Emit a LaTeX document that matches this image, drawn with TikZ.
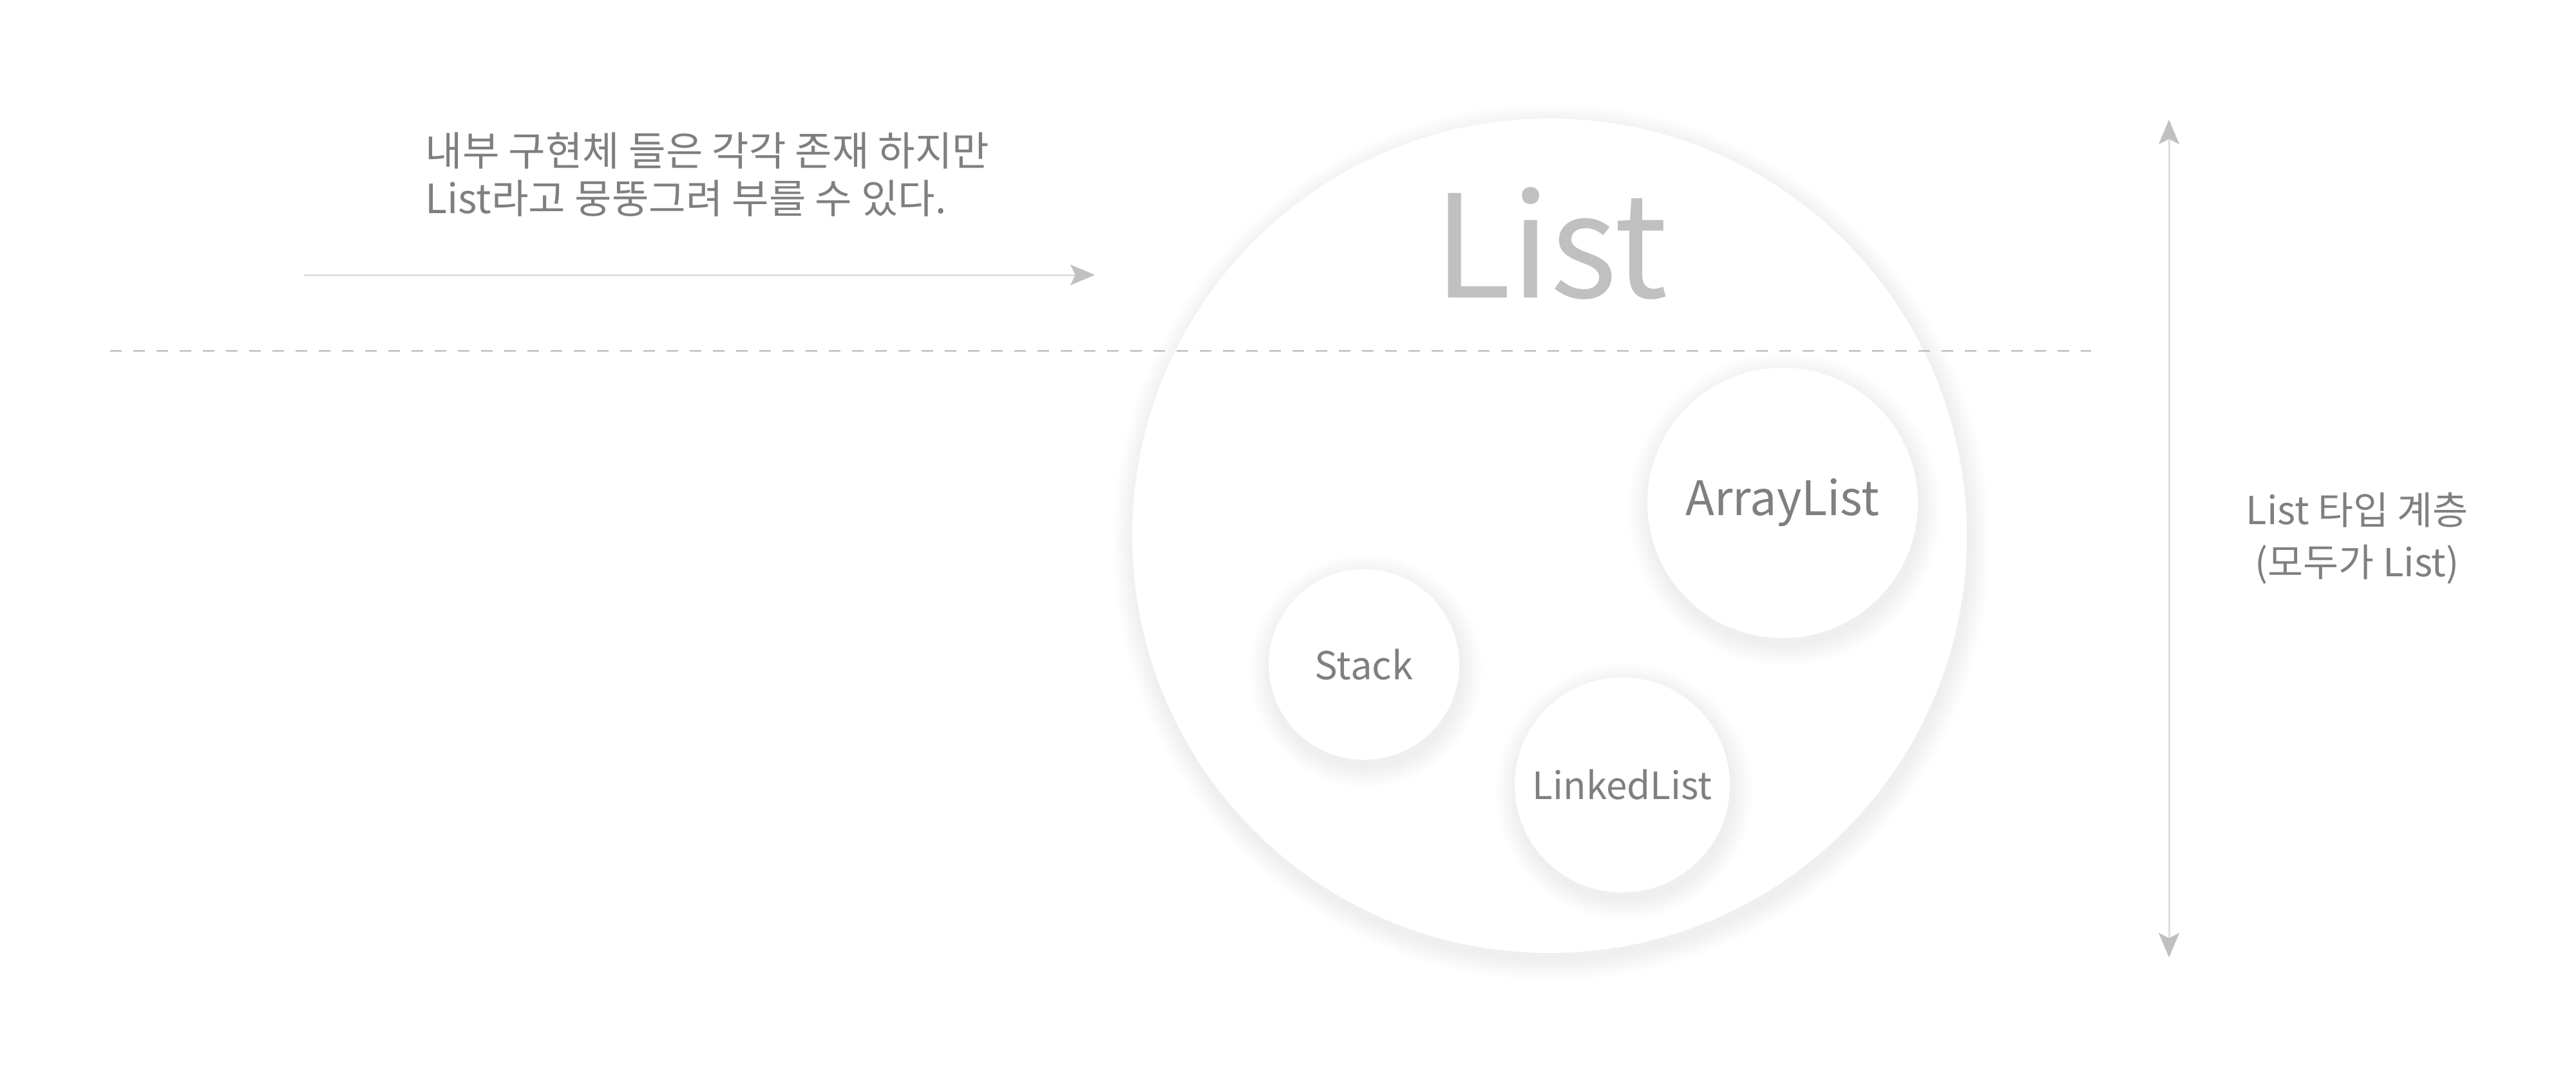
\documentclass[tikz,border=0pt]{standalone}
\usepackage{fontspec}
\setmainfont{Noto Sans CJK KR}
\usetikzlibrary{arrows.meta}
\definecolor{txtgray}{HTML}{7F7F7F}
\definecolor{titlegray}{HTML}{C0C0C0}
\definecolor{linegray}{HTML}{DEDEDE}
\definecolor{tipgray}{HTML}{C0C0C0}
\definecolor{dashgray}{HTML}{B4B4B4}
% soft halo, then the white set circle on top
\newcommand{\drawlisttype}[5]{
	\foreach \k in {1,...,8}
		\fill [black,opacity=0.009,shift={(0.03,-0.1)}] #1 circle ({#3+\k*0.04});
	\draw #1 node (#2) [setcirc,minimum size=2*#3 cm] {\fontsize{#4}{#4}\selectfont #5};
}

\begin{document}
\begin{tikzpicture}[
	setcirc/.style={shape=circle,fill=white,inner sep=0pt,text=txtgray},
	lbl/.style={text=txtgray,inner sep=0pt},
	guide/.style={draw=linegray,line width=0.3mm},
	tiphead/.tip={Stealth[length=3.8mm,width=3.2mm,inset=0.8mm,color=tipgray]}
]
	\useasboundingbox[fill=white] (0,0) rectangle (40,16.67);
	% the List set
	\drawlisttype{(24.06,8.35)}{list}{6.48}{10}{}
	\coordinate (cutl) at (1.71,11.22);
	\coordinate (cutr) at (32.47,11.22);
	\draw [dashgray,line width=0.2mm,dash pattern=on 1.8mm off 1.8mm] (cutl) -- (cutr);
	\draw (24.08,12.05) node (title) [anchor=base,text=titlegray,inner sep=0pt,font=\fontsize{63}{63}\selectfont] {List};
	% implementations
	\drawlisttype{(27.68,8.86)}{arraylist}{2.1}{21}{ArrayList}
	\drawlisttype{(21.18,6.35)}{stack}{1.48}{17}{Stack}
	\drawlisttype{(25.19,4.48)}{linkedlist}{1.67}{16.6}{LinkedList}
	% left note and arrow
	\draw (6.6,14.62) node (note) [anchor=north west,align=left,lbl,font=\fontsize{17.8}{21}\selectfont] {내부 구현체 들은 각각 존재 하지만\\List라고 뭉뚱그려 부를 수 있다.};
	\coordinate (from) at (4.72,12.40);
	\coordinate (to) at (17.0,12.40);
	\draw [guide,-tiphead] (from) -- (to);
	% hierarchy arrow
	\coordinate (top) at (33.68,14.81);
	\coordinate (bot) at (33.68,1.80);
	\draw [guide,tiphead-tiphead] (top) -- (bot);
	\draw (36.6,8.31) node (hier) [align=center,lbl,font=\fontsize{17}{23}\selectfont] {List 타입 계층\\(모두가 List)};
\end{tikzpicture}
\end{document}
